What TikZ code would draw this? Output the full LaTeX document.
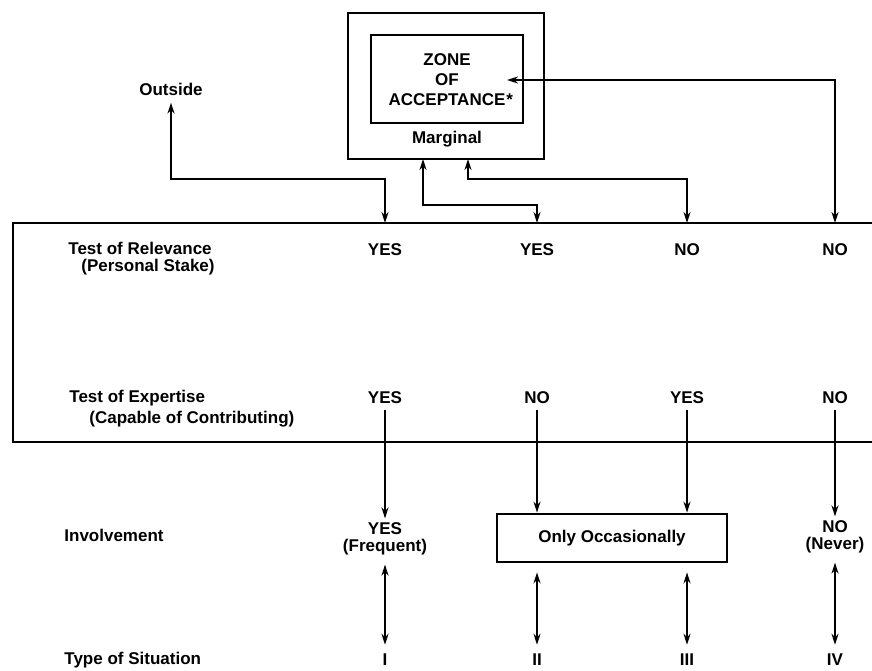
\documentclass[tikz,border=0pt]{standalone}
\usepackage{fontspec}
\setmainfont{Liberation Sans}
\usetikzlibrary{arrows.meta}
\begin{document}
\begin{tikzpicture}[x=1pt,y=-1pt, line width=2.8pt,
  lbl/.style={font=\fontsize{17}{17}\selectfont\bfseries, inner sep=0pt},
  boxed/.style={draw, line width=2.8pt, inner sep=0pt},
  tip/.style={-{Stealth[length=11pt,width=7pt]}},
  dtip/.style={{Stealth[length=11pt,width=7pt]}-{Stealth[length=11pt,width=7pt]}}]
\useasboundingbox (0,0) rectangle (872,670);

% --- zone of acceptance boxes ---
\node[boxed, minimum width=196pt, minimum height=146pt] (outer) at (446,86) {};
\node[boxed, minimum width=152pt, minimum height=88pt] (zone) at (447,79) {};
\node[lbl, align=center, font=\fontsize{17}{20}\selectfont\bfseries] (zonetxt) at (447,80)
  {ZONE\\OF\\ACCEPTANCE\rlap{\hspace{1pt}*}};
\node[lbl] (marginal) at (447,139) {Marginal};
\node[lbl] (outside) at (171,89) {Outside};

% --- big test box (open on the right) ---
\draw (873,223) -- (13,223) -- (13,442) -- (873,442);

% --- row labels ---
\node[lbl, anchor=west] (rel)    at (67,248)  {Test of Relevance};
\node[lbl, anchor=west] (relsub) at (80,267)  {(Personal Stake)};
\node[lbl, anchor=west] (exp)    at (68,398)  {Test of Expertise};
\node[lbl, anchor=west] (expsub) at (88,419)  {(Capable of Contributing)};
\node[lbl, anchor=west] (inv)    at (63,535)  {Involvement};
\node[lbl, anchor=west] (type)   at (63,660)  {Type of Situation};

% --- row 1 ---
\node[lbl] (r1a) at (385,250) {YES};
\node[lbl] (r1b) at (537,250) {YES};
\node[lbl] (r1c) at (687,250) {NO};
\node[lbl] (r1d) at (835,250) {NO};
% --- row 2 ---
\node[lbl] (r2a) at (385,398) {YES};
\node[lbl] (r2b) at (537,398) {NO};
\node[lbl] (r2c) at (687,398) {YES};
\node[lbl] (r2d) at (835,398) {NO};
% --- row 3 ---
\node[lbl, align=center] (r3a) at (385,539) {YES\\(Frequent)};
\node[boxed, lbl, minimum width=230pt, minimum height=48pt] (occ) at (612,538) {Only Occasionally};
\node[lbl, align=center] (r3d) at (835,537) {NO\\(Never)};
% --- row 4 ---
\node[lbl] (r4a) at (385,660) {I};
\node[lbl] (r4b) at (537,660) {II};
\node[lbl] (r4c) at (687,660) {III};
\node[lbl] (r4d) at (835,660) {IV};

% --- connector points ---
\coordinate (t1) at (385,223);
\coordinate (t2) at (537,223);
\coordinate (t3) at (687,223);
\coordinate (t4) at (835,223);
\coordinate (k1) at (385,179);
\coordinate (k2) at (537,205);
\coordinate (k3) at (687,179);
\coordinate (k4) at (835,80);
\coordinate (b2) at (423,159);
\coordinate (b3) at (468,159);
\coordinate (z4) at (507,80);

% --- top connectors ---
\draw[dtip] ([yshift=-6pt]outside.south) |- (k1) -- (t1);
\draw[dtip] (b2) |- (k2) -- (t2);
\draw[dtip] (b3) |- (k3) -- (t3);
\draw[dtip] (z4) -- (k4) -- (t4);

% --- down arrows from expertise row ---
\draw[tip] ([yshift=-5pt]r2a.south) -- ([yshift=3pt]r3a.north);
\draw[tip] ([yshift=-5pt]r2b.south) -- (r2b |- occ.north);
\draw[tip] ([yshift=-5pt]r2c.south) -- (r2c |- occ.north);
\draw[tip] ([yshift=-5pt]r2d.south) -- ([yshift=3pt]r3d.north);

% --- double arrows to situation types ---
\draw[dtip] ([yshift=-8pt]r3a.south) -- ([yshift=8pt]r4a.north);
\draw[dtip] ([yshift=-9pt]r4b |- occ.south) -- ([yshift=8pt]r4b.north);
\draw[dtip] ([yshift=-9pt]r4c |- occ.south) -- ([yshift=8pt]r4c.north);
\draw[dtip] ([yshift=-8pt]r3d.south) -- ([yshift=8pt]r4d.north);
\end{tikzpicture}
\end{document}
